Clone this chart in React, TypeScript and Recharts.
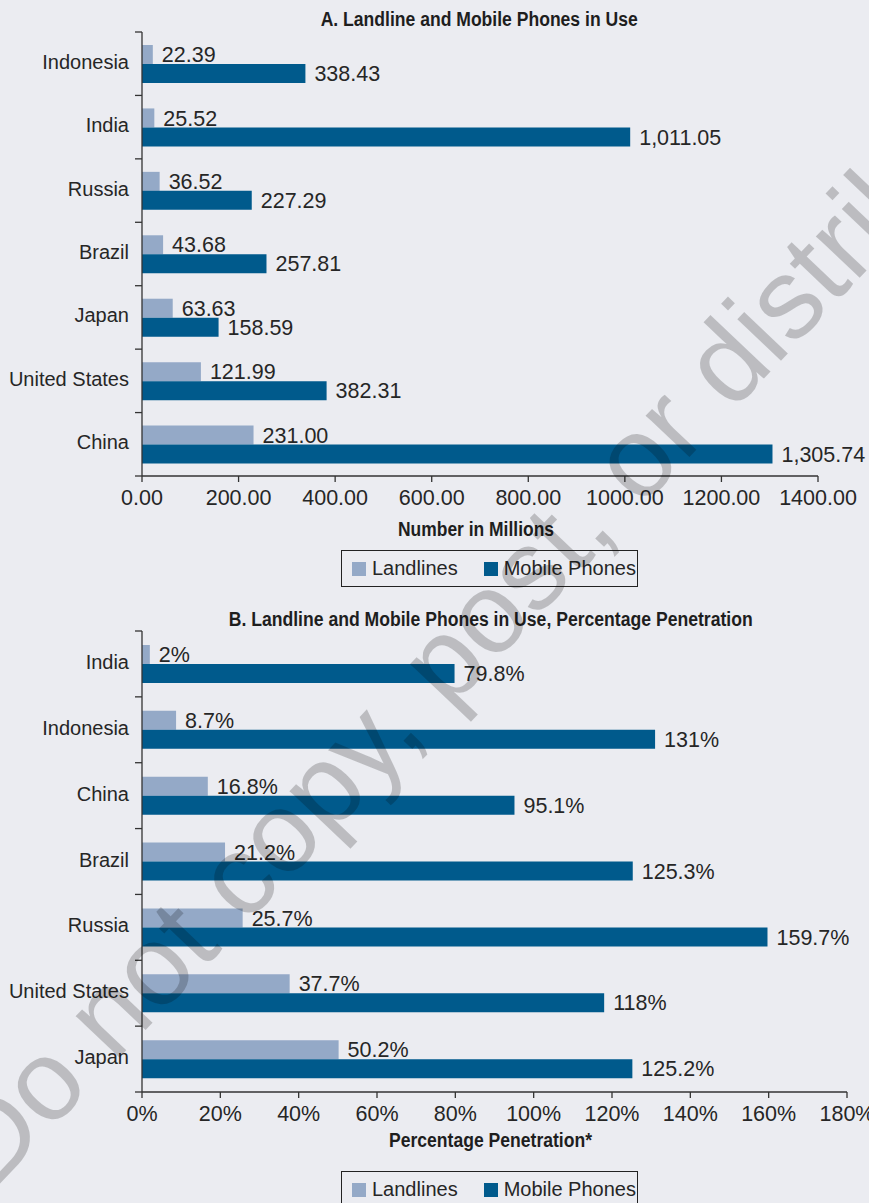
import React from 'react';
import { BarChart, Bar, XAxis, YAxis, LabelList, Legend, Label } from 'recharts';

// ---------- Data ----------
const countriesA = ['Indonesia', 'India', 'Russia', 'Brazil', 'Japan', 'United States', 'China'];
const landlinesA = [22.39, 25.52, 36.52, 43.68, 63.63, 121.99, 231.0];
const mobileA = [338.43, 1011.05, 227.29, 257.81, 158.59, 382.31, 1305.74];
const ticksA = [0, 200, 400, 600, 800, 1000, 1200, 1400];

const countriesB = ['India', 'Indonesia', 'China', 'Brazil', 'Russia', 'United States', 'Japan'];
const landlinesB = [2, 8.7, 16.8, 21.2, 25.7, 37.7, 50.2];
const mobileB = [79.8, 131, 95.1, 125.3, 159.7, 118, 125.2];
const ticksB = [0, 20, 40, 60, 80, 100, 120, 140, 160, 180];

const seriesNames = ['Landlines', 'Mobile Phones'];
const titleA = 'A. Landline and Mobile Phones in Use';
const titleB = 'B. Landline and Mobile Phones in Use, Percentage Penetration';
const axisTitleA = 'Number in Millions';
const axisTitleB = 'Percentage Penetration*';
const watermark = 'Do not copy, post, or distribute';

// ---------- Styles ----------
const BG = '#ebecf1';
const LAND = '#94a9c7';
const MOBILE = '#005a8c';
const AXIS = '#333333';
const TEXT = '#262626';
const TITLE = '#1e1e1e';
const FONT = '"Liberation Sans", Arial, sans-serif';

const dataA = countriesA.map((c, i) => ({ country: c, land: landlinesA[i], mobile: mobileA[i] }));
const dataB = countriesB.map((c, i) => ({ country: c, land: landlinesB[i], mobile: mobileB[i] }));

const tickFmtA = (v: any) => Number(v).toFixed(2);
const labelFmtA = (v: any) =>
  Number(v).toLocaleString('en-US', { minimumFractionDigits: 2, maximumFractionDigits: 2 });
const fmtB = (v: any) => `${v}%`;

const W = 869;

const A_H = 600;
const A_M = { top: 32, right: 51, bottom: 94, left: 0 };
const B_TOP = 600;
const B_H = 603;
const B_M = { top: 31, right: 22, bottom: 81, left: 0 };
const YW = 142;
const XH = 30;

const makeYTick = (band: number, count: number) => (props: any) => {
  const { x, y, payload, index } = props;
  const axisX = YW;
  return (
    <g>
      <line x1={axisX - 7} x2={axisX} y1={y - band / 2} y2={y - band / 2} stroke={AXIS} strokeWidth={1.3} />
      {index === count - 1 && (
        <line x1={axisX - 7} x2={axisX} y1={y + band / 2} y2={y + band / 2} stroke={AXIS} strokeWidth={1.3} />
      )}
      <text
        x={x}
        y={y}
        dy={-2}
        textAnchor="end"
        dominantBaseline="central"
        fontFamily={FONT}
        fontSize={20}
        fill={TEXT}
      >
        {payload.value}
      </text>
    </g>
  );
};

const makeAxisTitle = (text: string, baselineOffset: number, dx: number, len: number) => (props: any) => {
  const vb = props.viewBox || {};
  const cx = (vb.x ?? 0) + (vb.width ?? 0) / 2 + dx;
  const y = (vb.y ?? 0) + baselineOffset;
  return (
    <text
      x={cx - len / 2}
      y={y}
      textLength={len}
      lengthAdjust="spacingAndGlyphs"
      fontFamily={FONT}
      fontWeight={700}
      fontSize={20}
      fill={TITLE}
    >
      {text}
    </text>
  );
};

const LegendBox = (props: any) => {
  const items =
    props.payload && props.payload.length
      ? props.payload.map((p: any) => ({ name: p.value, color: p.color }))
      : [
          { name: seriesNames[0], color: LAND },
          { name: seriesNames[1], color: MOBILE },
        ];
  return (
    <div
      style={{
        border: '1.3px solid #222',
        height: 37,
        width: 297,
        boxSizing: 'border-box',
        display: 'flex',
        alignItems: 'center',
        paddingLeft: 10,
        fontFamily: FONT,
        fontSize: 20,
        color: TEXT,
        background: BG,
      }}
    >
      {items.map((it: any, i: number) => (
        <span key={i} style={{ display: 'flex', alignItems: 'center', marginRight: i === 0 ? 26 : 0 }}>
          <span style={{ display: 'inline-block', width: 14, height: 14, background: it.color, marginRight: 6 }} />
          {it.name}
        </span>
      ))}
    </div>
  );
};

const ChartPanel = (p: {
  data: any[];
  height: number;
  margin: any;
  domain: number[];
  ticks: number[];
  tickFmt: (v: any) => string;
  labelFmt: (v: any) => string;
  axisTitle: string;
  axisTitleBaseline: number;
  axisTitleDx: number;
  axisTitleLen: number;
  gap: number;
  legendTop: number;
}) => {
  const plotH = p.height - p.margin.top - p.margin.bottom - XH;
  const band = plotH / p.data.length;
  return (
    <BarChart
      width={W}
      height={p.height}
      data={p.data}
      layout="vertical"
      margin={p.margin}
      barCategoryGap={p.gap}
      barGap={0}
    >
      <XAxis
        type="number"
        domain={p.domain}
        ticks={p.ticks}
        tickFormatter={p.tickFmt}
        interval={0}
        height={XH}
        stroke={AXIS}
        strokeWidth={1.3}
        tickSize={6}
        tickMargin={8}
        tick={{ fontFamily: FONT, fontSize: 21.5, fill: TEXT }}
        allowDataOverflow
      >
        <Label
          position="bottom"
          content={makeAxisTitle(p.axisTitle, p.axisTitleBaseline, p.axisTitleDx, p.axisTitleLen)}
        />
      </XAxis>
      <YAxis
        type="category"
        dataKey="country"
        width={YW}
        stroke={AXIS}
        strokeWidth={1.3}
        tickLine={false}
        tickSize={7}
        tickMargin={6}
        interval={0}
        tick={makeYTick(band, p.data.length)}
      />
      <Legend
        layout="horizontal"
        verticalAlign="middle"
        align="center"
        content={<LegendBox />}
        wrapperStyle={{ left: 341, top: p.legendTop, width: 297, height: 37 }}
      />
      <Bar dataKey="land" name={seriesNames[0]} fill={LAND} isAnimationActive={false}>
        <LabelList
          dataKey="land"
          position="right"
          offset={9}
          formatter={p.labelFmt}
          style={{ fontFamily: FONT, fontSize: 21.5, fill: TEXT }}
        />
      </Bar>
      <Bar dataKey="mobile" name={seriesNames[1]} fill={MOBILE} isAnimationActive={false}>
        <LabelList
          dataKey="mobile"
          position="right"
          offset={9}
          formatter={p.labelFmt}
          style={{ fontFamily: FONT, fontSize: 21.5, fill: TEXT }}
        />
      </Bar>
    </BarChart>
  );
};

export default function App() {
  return (
    <div
      style={{
        position: 'absolute',
        top: 0,
        left: 0,
        width: W,
        height: 1203,
        background: BG,
        overflow: 'hidden',
      }}
    >
      <div style={{ position: 'absolute', top: 0, left: 0 }}>
        <ChartPanel
          data={dataA}
          height={A_H}
          margin={A_M}
          domain={[0, 1400]}
          ticks={ticksA}
          tickFmt={tickFmtA}
          labelFmt={labelFmtA}
          axisTitle={axisTitleA}
          axisTitleBaseline={60}
          axisTitleDx={-4}
          axisTitleLen={156}
          gap={13}
          legendTop={550}
        />
      </div>
      <div style={{ position: 'absolute', top: B_TOP, left: 0 }}>
        <ChartPanel
          data={dataB}
          height={B_H}
          margin={B_M}
          domain={[0, 180]}
          ticks={ticksB}
          tickFmt={fmtB}
          labelFmt={fmtB}
          axisTitle={axisTitleB}
          axisTitleBaseline={55}
          axisTitleDx={-4}
          axisTitleLen={203}
          gap={14}
          legendTop={571}
        />
      </div>
      <svg
        width={W}
        height={1203}
        style={{ position: 'absolute', top: 0, left: 0, pointerEvents: 'none' }}
      >
        <text
          x={320.7}
          y={25.7}
          textLength={317}
          lengthAdjust="spacingAndGlyphs"
          fontFamily={FONT}
          fontWeight={700}
          fontSize={20}
          fill={TITLE}
        >
          {titleA}
        </text>
        <text
          x={228.7}
          y={625.7}
          textLength={524}
          lengthAdjust="spacingAndGlyphs"
          fontFamily={FONT}
          fontWeight={700}
          fontSize={20}
          fill={TITLE}
        >
          {titleB}
        </text>
        <text
          transform="translate(-8,1192) rotate(-46.5)"
          fontFamily={FONT}
          fontSize={114}
          fill="#000"
          fillOpacity={0.2}
        >
          {watermark}
        </text>
      </svg>
    </div>
  );
}
